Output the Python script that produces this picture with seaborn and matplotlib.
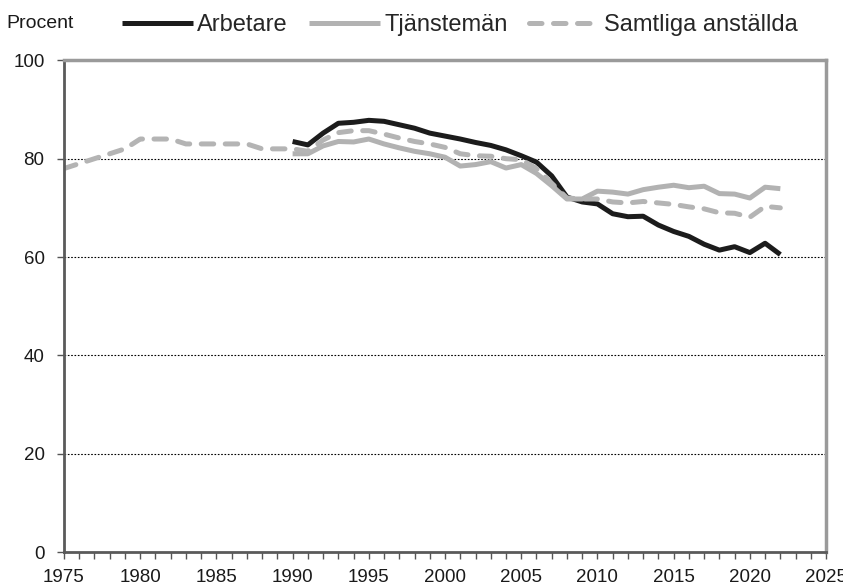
import numpy as np
import pandas as pd
import matplotlib
matplotlib.use("Agg")
import matplotlib.pyplot as plt
from matplotlib.ticker import MultipleLocator
import seaborn as sns

# data (percent)
years_all = list(range(1975, 2023))
samtliga = [78, 79, 80, 81, 82, 84, 84, 84, 83, 83,
            83, 83, 83, 82, 82, 82, 81.5, 83.8, 85.3, 85.7,
            85.7, 85, 84.2, 83.5, 83, 82.3, 81, 80.6, 80.5, 80,
            79.8, 78, 75, 72, 71.8, 71.8, 71.2, 71, 71.3, 71,
            70.7, 70.2, 69.8, 69, 68.9, 68.1, 70.3, 70]

years_90 = list(range(1990, 2023))
arbetare = [83.5, 82.8, 85.2, 87.2, 87.4, 87.8, 87.6, 86.9, 86.2, 85.2,
            84.6, 84.0, 83.3, 82.7, 81.8, 80.6, 79.3, 76.5, 72.2, 71.2,
            70.8, 68.8, 68.2, 68.3, 66.5, 65.2, 64.2, 62.6, 61.4, 62.1,
            60.9, 62.8, 60.5]
tjanstemän = [81.0, 81.0, 82.6, 83.5, 83.4, 84.0, 83.0, 82.2, 81.5, 81.0,
              80.3, 78.5, 78.8, 79.4, 78.1, 78.8, 77.0, 74.5, 71.8, 71.8,
              73.4, 73.2, 72.8, 73.7, 74.2, 74.6, 74.1, 74.4, 72.9, 72.8,
              72.0, 74.2, 73.9]

labels = ["Arbetare", "Tjänstemän", "Samtliga anställda"]

sns.set_style("white")
plt.rcParams["font.family"] = ["Liberation Sans", "DejaVu Sans"]

fig = plt.figure(figsize=(8.43, 5.86), dpi=100)
ax = fig.add_axes([0.0759, 0.058, 0.904, 0.839])

lw = 3.6
sns.lineplot(x=years_90, y=arbetare, ax=ax, color="#1c1c1c", lw=lw,
             label=labels[0], solid_capstyle="butt")
sns.lineplot(x=years_90, y=tjanstemän, ax=ax, color="#b2b2b2", lw=lw,
             label=labels[1], solid_capstyle="butt")
sns.lineplot(x=years_all, y=samtliga, ax=ax, color="#b4b4b4", lw=lw,
             label=labels[2], dashes=False)
ax.lines[-1].set_dashes([2.5, 2.3])
ax.lines[-1].set_dash_capstyle("round")

ax.set_xlim(1975, 2025)
ax.set_ylim(0, 100)
ax.set_xticks(range(1975, 2026, 5))
ax.xaxis.set_minor_locator(MultipleLocator(1))
ax.set_yticks(range(0, 101, 20))
ax.tick_params(axis="both", which="both", direction="out", length=5,
               width=1, color="#555555", labelsize=13.5, labelcolor="#1a1a1a")
ax.tick_params(axis="x", which="both", bottom=True, pad=7)
ax.tick_params(axis="y", left=True, pad=9)

for y in [20, 40, 60, 80]:
    ax.axhline(y, color="black", lw=0.8, ls=(0, (1.5, 1.5)), zorder=0)

for side in ["left", "bottom"]:
    ax.spines[side].set_color("#5a5a5a")
    ax.spines[side].set_linewidth(2)
for side in ["top", "right"]:
    ax.spines[side].set_color("#9a9a9a")
    ax.spines[side].set_linewidth(2.5)

ax.set_xlabel("")
ax.set_ylabel("")
ax.get_legend().remove()

handles, _ = ax.get_legend_handles_labels()
fig.legend(handles, labels, loc="center left", bbox_to_anchor=(0.1444, 0.957),
           ncol=3, frameon=False, fontsize=17, handlelength=3.0,
           handletextpad=0.17, columnspacing=0.93, borderaxespad=0,
           borderpad=0)
fig.text(0.008, 0.960, "Procent", fontsize=14, va="center", ha="left",
         color="#1a1a1a")

fig.savefig("out.png", dpi=100)
